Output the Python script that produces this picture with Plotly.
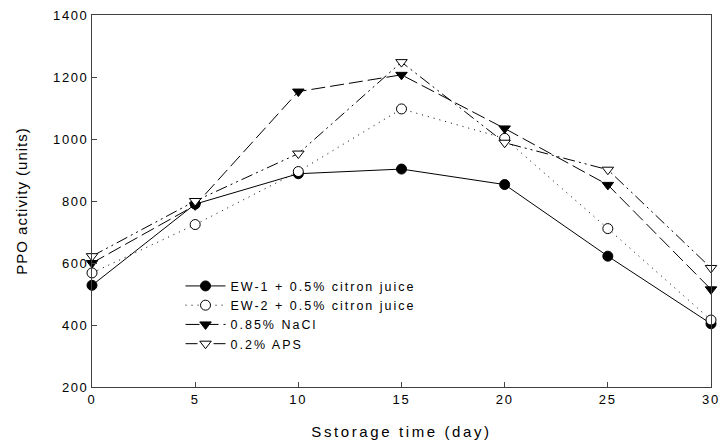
import plotly.graph_objects as go

days = [0, 5, 10, 15, 20, 25, 30]
ew1 = [528, 790, 888, 903, 853, 622, 404]
ew2 = [568, 724, 895, 1097, 1002, 711, 416]
nacl = [600, 786, 1153, 1207, 1034, 852, 515]
aps = [622, 800, 953, 1248, 988, 901, 584]

names = ["EW-1 + 0.5% citron juice", "EW-2 + 0.5% citron juice", "0.85% NaCl", "0.2% APS"]
y_ticks = [200, 400, 600, 800, 1000, 1200, 1400]
x_ticks = [0, 5, 10, 15, 20, 25, 30]

series = [
    (ew1, "solid", "circle", "black"),
    (ew2, "1px,5px", "circle", "white"),
    (nacl, "14px,5px", "triangle-down", "black"),
    (aps, "12px,4px,2px,4px,2px,4px", "triangle-down", "white"),
]

fig = go.Figure()
for (vals, dash, sym, fill), name in zip(series, names):
    fig.add_trace(go.Scatter(
        x=days, y=vals, name=name, mode="lines+markers",
        line=dict(color="black", width=1, dash=dash),
        marker=dict(symbol=sym, size=10, color=fill, line=dict(color="black", width=1)),
        cliponaxis=False,
    ))

font = "Arial, Liberation Sans, sans-serif"
fig.update_layout(
    width=720, height=447,
    margin=dict(l=92, r=9, t=15, b=60),
    paper_bgcolor="white", plot_bgcolor="white",
    font=dict(family=font, size=13, color="black"),
    showlegend=True,
    legend=dict(x=0.143, y=0.311, xanchor="left", yanchor="top",
                bgcolor="rgba(0,0,0,0)", font=dict(size=12.5),
                tracegroupgap=0, itemwidth=40),
    xaxis=dict(range=[0, 30], tickvals=x_ticks, ticks="inside", ticklen=5,
               showline=True, linecolor="#404040", linewidth=1, mirror=True,
               showgrid=False, zeroline=False, automargin=False,
               title=dict(text="Sstorage time (day)", font=dict(size=15), standoff=20),
               tickfont=dict(size=13)),
    yaxis=dict(range=[200, 1400], tickvals=y_ticks, ticks="inside", ticklen=5,
               showline=True, linecolor="#404040", linewidth=1, mirror=True,
               showgrid=False, zeroline=False, automargin=False,
               title=dict(text="PPO activity (units)", font=dict(size=15), standoff=28),
               tickfont=dict(size=13)),
)

post = """
document.body.style.margin = '0';
var gd = document.getElementById('{plot_id}');
function applySpacing() {
  var rules = [['.xtick text', '1.8px'], ['.ytick text', '1.6px'],
               ['.legendtext', '2px'], ['.g-xtitle text', '2.6px'],
               ['.g-ytitle text', '1px']];
  rules.forEach(function (r) {
    gd.querySelectorAll(r[0]).forEach(function (t) { t.style.letterSpacing = r[1]; });
  });
  gd.querySelectorAll('.legend [clip-path], .legend[clip-path]').forEach(function (e) {
    e.removeAttribute('clip-path');
  });
}
applySpacing();
setTimeout(applySpacing, 50);
setTimeout(applySpacing, 300);
if (gd && gd.on) { gd.on('plotly_afterplot', applySpacing); }
"""

fig.write_html("out.html", post_script=post, config={"displayModeBar": False})
